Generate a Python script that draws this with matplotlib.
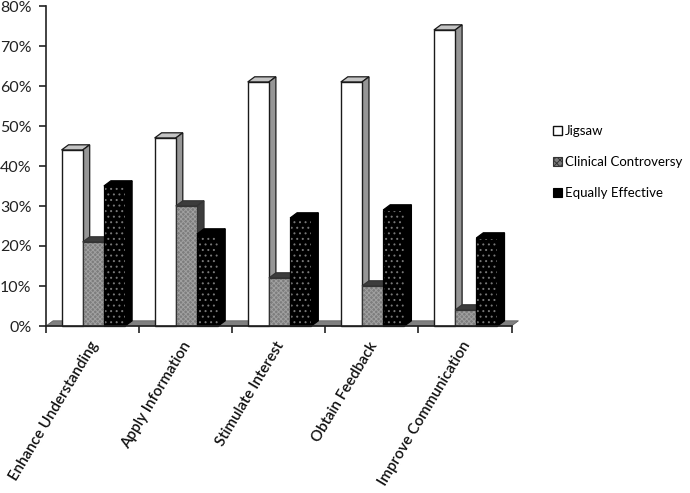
import matplotlib
matplotlib.use("Agg")
import matplotlib.pyplot as plt
from matplotlib.patches import Polygon, Rectangle, Patch

categories = ["Enhance Understanding", "Apply Information", "Stimulate Interest",
              "Obtain Feedback", "Improve Communication"]
series_names = ["Jigsaw", "Clinical Controversy", "Equally Effective"]
jigsaw = [44, 47, 61, 61, 74]
clinical = [21, 30, 12, 10, 4]
equally = [35, 23, 27, 29, 22]
y_ticks = [0, 10, 20, 30, 40, 50, 60, 70, 80]

plt.rcParams['font.family'] = ['Lato', 'DejaVu Sans']
plt.rcParams['hatch.linewidth'] = 0.7

W, H = 690, 493
fig = plt.figure(figsize=(W / 100, H / 100), dpi=100)
ax = fig.add_axes([46 / W, 1 - 326 / H, 465.5 / W, 320 / H])
ax.set_xlim(0, 5)
ax.set_ylim(0, 80)

DX = 7.0 / 93.1
DY = 1.3
OFF = 15.5 / 93.1
BW = 21.2 / 93.1

styles = [
    dict(front="#ffffff", top="#c4c4c4", side="#969696", edge="#1a1a1a", hatch=None, hc=None),
    dict(front="#7d7d7d", top="#3c3c3c", side="#3c3c3c", edge="#333333", hatch="xxxxxxx", hc="#a0a0a0"),
    dict(front="#000000", top="#000000", side="#000000", edge="#000000", hatch="...", hc="#777777"),
]

# floor
ax.add_patch(Polygon([(0, 0), (5, 0), (5 + DX, DY), (DX, DY)], closed=True,
                     facecolor="#808080", edgecolor="#555555", lw=0.5,
                     clip_on=False, zorder=1))

def draw_bar(x, v, st, z):
    ax.add_patch(Polygon([(x, v), (x + BW, v), (x + BW + DX, v + DY), (x + DX, v + DY)],
                         closed=True, facecolor=st["top"], edgecolor=st["edge"],
                         lw=0.9, clip_on=False, zorder=z))
    ax.add_patch(Polygon([(x + BW, 0), (x + BW + DX, DY), (x + BW + DX, v + DY), (x + BW, v)],
                         closed=True, facecolor=st["side"], edgecolor=st["edge"],
                         lw=0.9, clip_on=False, zorder=z))
    if st["hatch"]:
        ax.add_patch(Rectangle((x, 0), BW, v, facecolor=st["front"], edgecolor=st["hc"],
                               hatch=st["hatch"], lw=0, zorder=z))
        ax.add_patch(Rectangle((x, 0), BW, v, fill=False, edgecolor=st["edge"], lw=0.9,
                               clip_on=False, zorder=z))
    else:
        ax.add_patch(Rectangle((x, 0), BW, v, facecolor=st["front"], edgecolor=st["edge"],
                               lw=1.0, clip_on=False, zorder=z))

for i in range(len(categories)):
    for j, vals in enumerate([jigsaw, clinical, equally]):
        draw_bar(i + OFF + j * BW, vals[i], styles[j], 2 + j + i * 3)

for s in ("top", "right"):
    ax.spines[s].set_visible(False)
for s in ("left", "bottom"):
    ax.spines[s].set_linewidth(1.2)
    ax.spines[s].set_color("#222222")
    ax.spines[s].set_zorder(30)

ax.set_yticks(y_ticks)
ax.set_yticklabels([f"{t}%" for t in y_ticks], fontsize=11.5, color="#222222")
ax.tick_params(axis="y", length=5, width=1.2, pad=5.5, color="#222222")
ax.set_xticks(range(6))
ax.set_xticklabels([""] * 6)
ax.tick_params(axis="x", length=5, width=1.2, color="#222222")

for i, c in enumerate(categories):
    ax.annotate(c, xy=(i + 0.5, 0), xytext=(1.8, -12), textcoords="offset points",
                rotation=59, rotation_mode="anchor", ha="right", va="center",
                fontsize=10.9, fontweight="semibold", color="#111111", annotation_clip=False)

handles = [
    Patch(facecolor="#ffffff", edgecolor="#111111", lw=1.0),
    Patch(facecolor="#7d7d7d", edgecolor="#333333", hatch="xxxxx", lw=0.8),
    Patch(facecolor="#000000", edgecolor="#000000", lw=0.8),
]
fig.legend(handles, series_names, loc="upper left",
           bbox_to_anchor=(549 / W, 1 - 121.5 / H), bbox_transform=fig.transFigure,
           frameon=False, fontsize=9.5, handlelength=0.65, handleheight=0.65,
           handletextpad=0.25, labelspacing=1.42, borderpad=0.3, borderaxespad=0)

fig.savefig("out.png", dpi=100, facecolor="white")
